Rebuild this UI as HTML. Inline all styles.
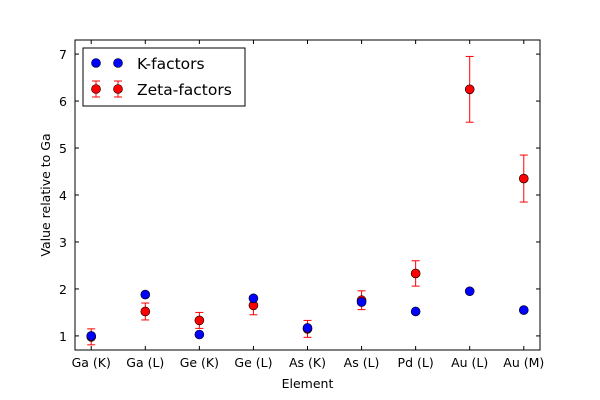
<!DOCTYPE html>
<html><head><meta charset="utf-8"><style>body{margin:0;background:#fff}svg{display:block}text{font-family:"DejaVu Sans","Liberation Sans",sans-serif}</style></head>
<body>
<svg id="chart" width="600" height="400" xmlns="http://www.w3.org/2000/svg"></svg>
<script>
const categories=["Ga (K)","Ga (L)","Ge (K)","Ge (L)","As (K)","As (L)","Pd (L)","Au (L)","Au (M)"];
const kFactors=[1.0,1.88,1.03,1.8,1.17,1.72,1.52,1.95,1.55];
const zetaFactors=[0.98,1.52,1.33,1.65,1.15,1.76,2.33,6.25,4.35];
const zetaErrors=[0.17,0.18,0.17,0.2,0.18,0.2,0.27,0.7,0.5];
const yTicks=[1,2,3,4,5,6,7];
const L=75,R=540,T=40,B=350;
const xs=i=>L+(i+0.3)/8.6*(R-L);
const ys=v=>B-(v-0.7)/6.6*(B-T);
const svg=document.getElementById('chart');
const NS='http://www.w3.org/2000/svg';
function mk(tag,attrs,parent){const e=document.createElementNS(NS,tag);for(const k in attrs)e.setAttribute(k,attrs[k]);(parent||svg).appendChild(e);return e;}
const frame=mk('rect',{x:L,y:T,width:R-L,height:B-T,fill:'#fff',stroke:'#000','stroke-width':1});


const xg=mk('g',{});


categories.forEach((c,i)=>{const x=xs(i);
mk('line',{x1:x,x2:x,y1:B,y2:B-4,stroke:'#000'},xg);
mk('line',{x1:x,x2:x,y1:T,y2:T+4,stroke:'#000'},xg);
const t=mk('text',{x:x,y:B+17,'text-anchor':'middle','font-size':12.5},xg);t.textContent=c;

});
const yg=mk('g',{});


yTicks.forEach(v=>{const y=ys(v);
mk('line',{x1:L,x2:L+4,y1:y,y2:y,stroke:'#000'},yg);
mk('line',{x1:R,x2:R-4,y1:y,y2:y,stroke:'#000'},yg);
const t=mk('text',{x:L-8,y:y+5,'text-anchor':'end','font-size':12.5},yg);t.textContent=v;

});
const xt=mk('text',{x:(L+R)/2,y:388,'text-anchor':'middle','font-size':12.5});xt.textContent='Element';


const yt=mk('text',{x:0,y:0,'text-anchor':'middle','font-size':12.5,transform:`translate(50,${(T+B)/2}) rotate(-90)`});yt.textContent='Value relative to Ga';


const zg=mk('g',{});


zetaFactors.forEach((v,i)=>{const x=xs(i),e=zetaErrors[i];
const y1=ys(v-e),y2=ys(v+e);
mk('line',{x1:x,x2:x,y1:y1,y2:y2,stroke:'#f00'},zg);
mk('line',{x1:x-4,x2:x+4,y1:y1,y2:y1,stroke:'#f00'},zg);
mk('line',{x1:x-4,x2:x+4,y1:y2,y2:y2,stroke:'#f00'},zg);
const c=mk('circle',{cx:x,cy:ys(v),r:4.5,fill:'#f00',stroke:'#000','stroke-width':0.6},zg);

});
const kg=mk('g',{});


kFactors.forEach((v,i)=>{const c=mk('circle',{cx:xs(i),cy:ys(v),r:4.5,fill:'#00f',stroke:'#000','stroke-width':0.6},kg);

});
const lg=mk('g',{});


mk('rect',{x:83,y:48,width:162,height:58,fill:'#fff',stroke:'#000'},lg);
mk('circle',{cx:96,cy:63,r:4.5,fill:'#00f',stroke:'#000','stroke-width':0.6},lg);
mk('circle',{cx:118,cy:63,r:4.5,fill:'#00f',stroke:'#000','stroke-width':0.6},lg);
let t1=mk('text',{x:137,y:69,'font-size':15.5},lg);t1.textContent='K-factors';


[96,118].forEach(x=>{mk('line',{x1:x,x2:x,y1:81,y2:97,stroke:'#f00'},lg);mk('line',{x1:x-4,x2:x+4,y1:81,y2:81,stroke:'#f00'},lg);mk('line',{x1:x-4,x2:x+4,y1:97,y2:97,stroke:'#f00'},lg);mk('circle',{cx:x,cy:89,r:4.5,fill:'#f00',stroke:'#000','stroke-width':0.6},lg);});
let t2=mk('text',{x:137,y:95,'font-size':15.5},lg);t2.textContent='Zeta-factors';


</script>
</body></html>
